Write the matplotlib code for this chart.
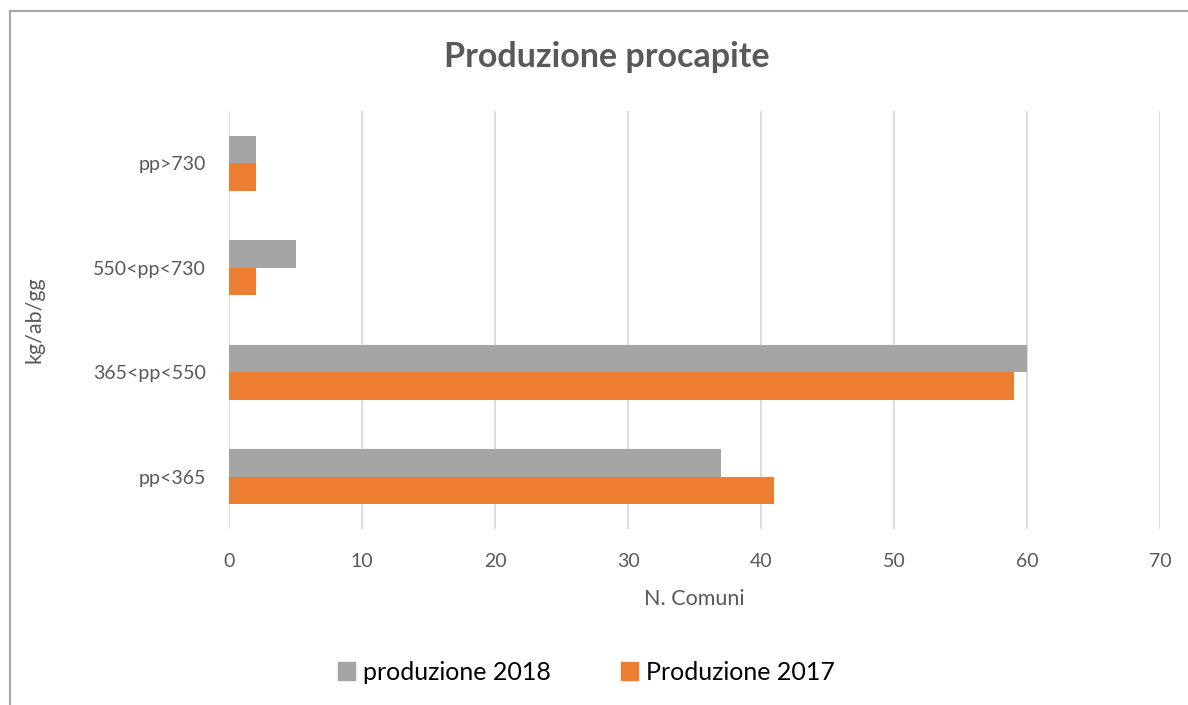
import numpy as np
import matplotlib.pyplot as plt
from matplotlib.patches import Rectangle, Patch

# dati
categorie = ['pp<365', '365<pp<550', '550<pp<730', 'pp>730']
prod_2018 = [37, 60, 5, 2]
prod_2017 = [41, 59, 2, 2]

grigio = '#A5A5A5'
arancio = '#ED7D31'
testo = '#595959'

plt.rcParams['font.family'] = ['Lato', 'DejaVu Sans']

W, H = 1188, 705
fig = plt.figure(figsize=(W / 100, H / 100), dpi=100)

# bordo del grafico (tagliato a destra e in basso)
fig.patches.append(Rectangle((10 / W, -0.1), 1.2, 1 - 11 / H + 0.1,
                             transform=fig.transFigure, fill=False,
                             edgecolor='#A6A6A6', linewidth=1.5))

ax = fig.add_axes([229 / W, 1 - 529 / H, (1160 - 229) / W, (529 - 111) / H])

y = np.arange(len(categorie))
h = 0.263
ax.barh(y + h / 2, prod_2018, height=h, color=grigio, label='produzione 2018', zorder=3)
ax.barh(y - h / 2, prod_2017, height=h, color=arancio, label='Produzione 2017', zorder=3)

ax.set_xlim(0, 70)
ax.set_ylim(-0.5, len(categorie) - 0.5)
ax.set_xticks(range(0, 71, 10))
ax.set_yticks(y)
ax.set_yticklabels(categorie)
ax.grid(axis='x', color='#D9D9D9', linewidth=1.3, zorder=0)
for s in ax.spines.values():
    s.set_visible(False)
ax.tick_params(length=0, labelsize=14, labelcolor=testo)
ax.tick_params(axis='y', pad=16.5)
ax.tick_params(axis='x', pad=17)

ax.set_xlabel('N. Comuni', fontsize=15.5, color=testo, labelpad=14)
ax.set_ylabel('kg/ab/gg', fontsize=15.5, color=testo)
ax.yaxis.set_label_coords((45 - 229) / (1160 - 229), 0.5)

fig.text(607 / W, 1 - 57 / H, 'Produzione procapite', ha='center', va='center',
         fontsize=24.5, fontweight='bold', color=testo)

handles = [Patch(color=grigio), Patch(color=arancio)]
fig.legend(handles, ['produzione 2018', 'Produzione 2017'], loc='center',
           bbox_to_anchor=(586 / W, 1 - 672 / H), ncol=2, frameon=False,
           fontsize=18, handlelength=0.7, handleheight=0.7, handletextpad=0.3,
           columnspacing=2.8)

fig.savefig('out.png', dpi=100)
